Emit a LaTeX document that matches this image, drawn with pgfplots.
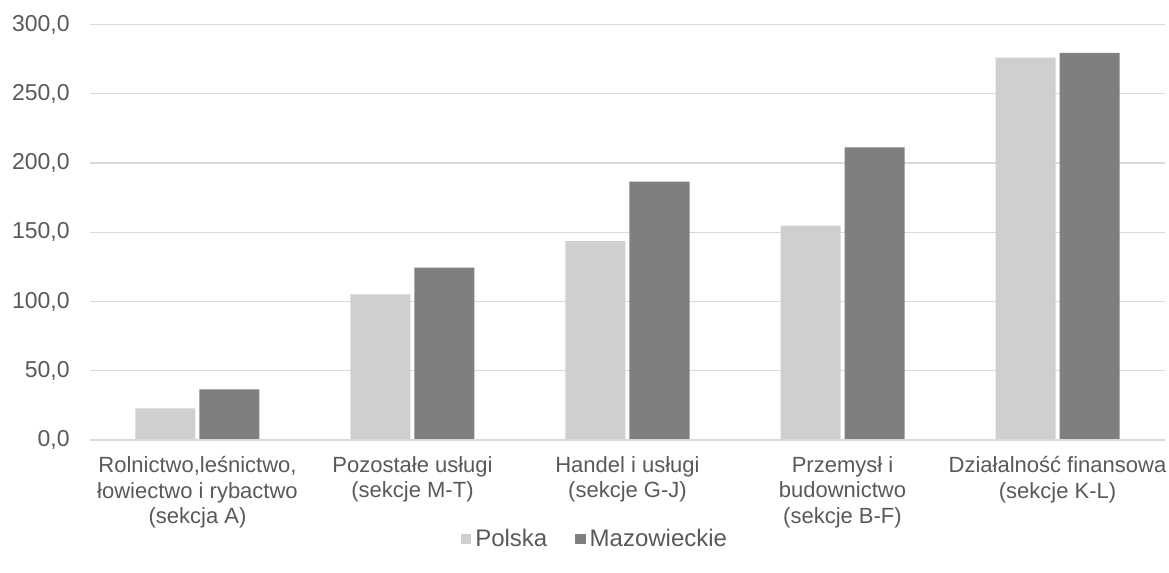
\documentclass[border=0pt]{standalone}
\usepackage{pgfplots}
\pgfplotsset{compat=1.18}
\usepackage{fontspec}
\setmainfont{Liberation Sans}
\definecolor{txt}{HTML}{595959}
\definecolor{gridc}{HTML}{D9D9D9}
\definecolor{pol}{HTML}{D0CECE}
\definecolor{maz}{HTML}{7F7F7F}
\begin{document}
\begin{tikzpicture}
\begin{axis}[
  scale only axis,
  width=537.5pt, height=207.75pt,
  xmin=-0.5, xmax=4.5,
  ymin=0, ymax=300,
  ytick={0,50,...,300},
  xtick={0,1,2,3,4},
  xticklabels={{Rolnictwo,leśnictwo,\\[1.3pt]łowiectwo i rybactwo\\[1.3pt](sekcja A)},{Pozostałe usługi\\[1.3pt](sekcje M-T)},{Handel i usługi\\[1.3pt](sekcje G-J)},{Przemysł i\\[1.3pt]budownictwo\\[1.3pt](sekcje B-F)},{Działalność finansowa\\[1.3pt](sekcje K-L)}},
  axis line style={draw=none},
  major tick length=0pt,
  tick style={draw=none},
  ymajorgrids, xmajorgrids=false,
  grid style={draw=gridc, line width=0.6pt},
  every tick label/.append style={text=txt, inner sep=0pt},
  yticklabel style={xshift=-10pt, font=\fontsize{11.5}{12}\selectfont},
  xticklabel style={align=center, yshift=-8pt, font=\fontsize{11}{11.5}\selectfont},
  /pgf/number format/.cd, fixed, fixed zerofill, precision=1, use comma, assume math mode=true,
  /pgfplots/.cd,
  legend style={draw=none, fill=none, at={(0.4707,-0.238)}, anchor=center,
    legend columns=2, font=\fontsize{12}{13}\selectfont, text=txt,
    /tikz/every even column/.append style={column sep=12pt}},
  legend image code/.code={\fill[#1] (0pt,-2.6pt) rectangle (5.2pt,2.6pt);},
  legend cell align=left,
]
\addplot[ybar, bar width=30pt, bar shift=-16pt, fill=pol, draw=none] coordinates {(0,22.9) (1,105.2) (2,143.6) (3,154.7) (4,276.0)};
\addlegendentry{Polska}
\addplot[ybar, bar width=30pt, bar shift=16pt, fill=maz, draw=none] coordinates {(0,36.6) (1,124.4) (2,186.5) (3,211.3) (4,279.6)};
\addlegendentry{Mazowieckie}
\draw[gridc, line width=0.8pt] (axis cs:-0.5,0) -- (axis cs:4.5,0);
\end{axis}
\pgfresetboundingbox
\useasboundingbox (-45pt,-66.5pt) rectangle (539.5pt,220pt);
\end{tikzpicture}
\end{document}
